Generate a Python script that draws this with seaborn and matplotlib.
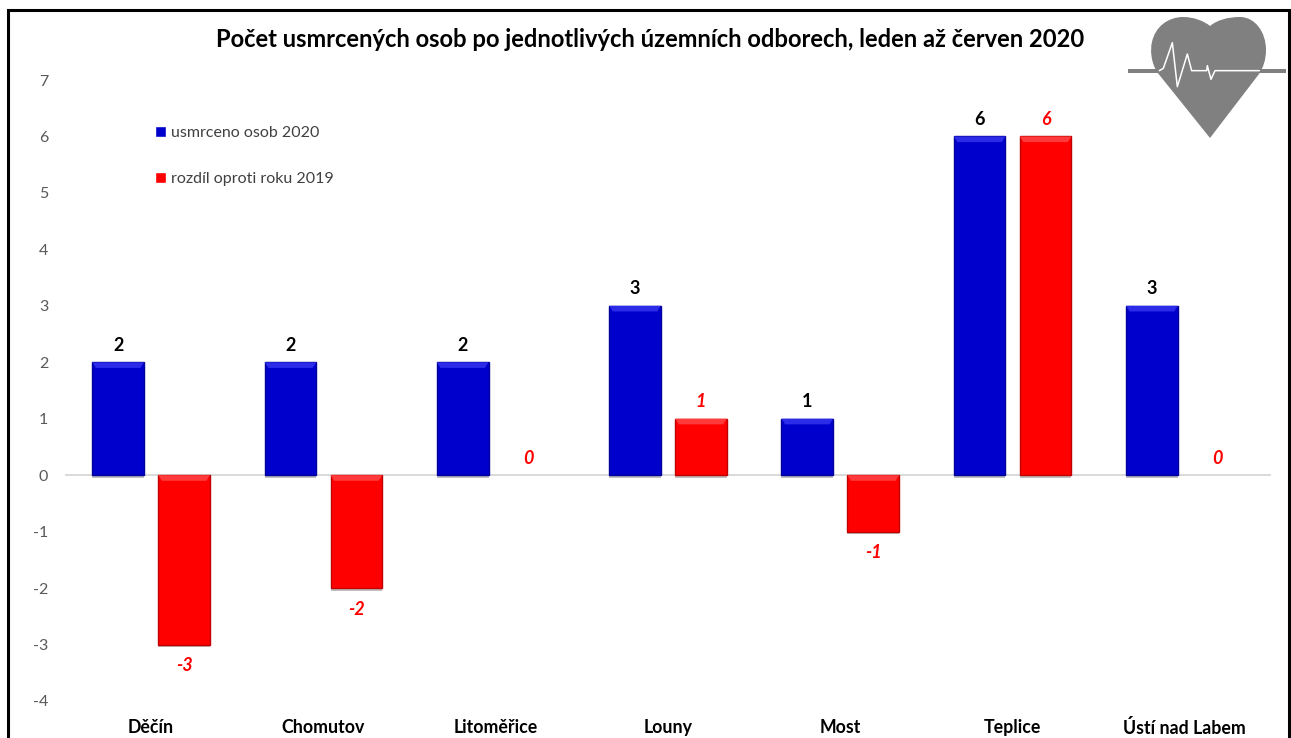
import pandas as pd
import seaborn as sns
import matplotlib.pyplot as plt
import matplotlib.patheffects as pe
from matplotlib.patches import Polygon, Rectangle, PathPatch
from matplotlib.path import Path

categories = ['Děčín', 'Chomutov', 'Litoměřice', 'Louny', 'Most', 'Teplice', 'Ústí nad Labem']
usmrceno_2020 = [2, 2, 2, 3, 1, 6, 3]
rozdil_2019 = [-3, -2, 0, 1, -1, 6, 0]
series_names = ['usmrceno osob 2020', 'rozdíl oproti roku 2019']
title = 'Počet usmrcených osob po jednotlivých územních odborech, leden až červen 2020'

W, H = 1291, 738

# dlouha tabulka pro seaborn
df = pd.DataFrame({
    'odbor': categories * 2,
    'pocet': usmrceno_2020 + rozdil_2019,
    'serie': [series_names[0]] * 7 + [series_names[1]] * 7,
})

sns.set_theme(style='white')
plt.rcParams['font.family'] = ['Lato', 'DejaVu Sans']
plt.rcParams['axes.unicode_minus'] = False

fig = plt.figure(figsize=(W / 100, H / 100), dpi=100, facecolor='white')
ax = fig.add_axes([65 / W, 1 - 701 / H, (1271 - 65) / W, (701 - 80) / H])

colors = {series_names[0]: '#0000CC', series_names[1]: '#FF0000'}
edges = ['#00009A', '#C00000']
bevels = ['#2B2BE8', '#FF3A3A']
sns.barplot(data=df, x='odbor', y='pocet', hue='serie', palette=colors, width=0.766, gap=0.217,
            saturation=1, ax=ax, legend=True)

ax.set_xlim(-0.5, 6.5)
ax.set_ylim(-4, 7)
ax.set_yticks(range(-4, 8))
ax.set_xlabel('')
ax.set_ylabel('')
sns.despine(ax=ax, left=True, bottom=True)
ax.axhline(0, color='#D9D9D9', lw=1.4, zorder=1)
ax.tick_params(axis='y', length=0, pad=12, labelsize=11.5, labelcolor='#595959')
ax.tick_params(axis='x', length=0, pad=13, labelsize=12.8)
for lab in ax.get_xticklabels():
    lab.set_fontweight('bold')
    lab.set_color('black')

# stin, tmavsi okraj a svetlejsi horni hrana sloupcu, popisky hodnot
shadow = [pe.SimplePatchShadow(offset=(0, -2), shadow_rgbFace='#808080', alpha=0.5), pe.Normal()]
for i, cont in enumerate(ax.containers[:2]):
    for bar in cont:
        if bar.get_height() == 0:
            bar.set_visible(False)
            continue
        bar.set_edgecolor(edges[i])
        bar.set_linewidth(1)
        bar.set_path_effects(shadow)
        bar.set_zorder(3)
        x0 = bar.get_x()
        w = bar.get_width()
        top = max(bar.get_y(), bar.get_y() + bar.get_height())
        ax.add_patch(Polygon([(x0, top), (x0 + w, top), (x0 + w * 0.93, top - 0.1), (x0 + w * 0.07, top - 0.1)],
                             closed=True, facecolor=bevels[i], edgecolor='none', zorder=4))
    if i == 0:
        ax.bar_label(cont, fmt='%d', padding=6, fontsize=13, fontweight='bold', color='black')
    else:
        texts = ax.bar_label(cont, fmt='%d', padding=6, fontsize=13, fontweight='bold', fontstyle='italic', color='#FF0000')
        # zaporne popisky jsou v originale o neco niz
        for t, v in zip(texts, rozdil_2019):
            if v < 0:
                t.xyann = (0, -9)

leg = ax.legend(loc='upper left', bbox_to_anchor=(141 / W, 1 - 112 / H), bbox_transform=fig.transFigure,
                frameon=False, fontsize=11.5, labelspacing=2.0, handlelength=0.65, handleheight=0.65,
                handletextpad=0.3, borderpad=0.4)
for t in leg.get_texts():
    t.set_color('#404040')

fig.text(650 / W, 1 - 39.5 / H, title, ha='center', va='center', fontsize=17.1, fontweight='bold', color='black')

# ramecek a srdce v pixelovych souradnicich
over = fig.add_axes([0, 0, 1, 1], facecolor='none')
over.set_xlim(0, W)
over.set_ylim(H, 0)
over.axis('off')
over.plot([7.5, 7.5, 1288.5, 1288.5], [738, 10, 10, 738], color='black', lw=2.2, solid_joinstyle='miter')

heart_verts = [(1210, 138), (1157, 72),
               (1151, 62), (1150, 50), (1152, 42),
               (1155, 27), (1168, 17), (1183, 17),
               (1194, 17), (1204, 21), (1210, 26),
               (1217, 20), (1228, 17), (1240, 17),
               (1255, 17), (1266, 32), (1266, 50),
               (1266, 60), (1263, 68), (1259, 74),
               (1210, 138)]
heart_codes = [Path.MOVETO, Path.LINETO] + [Path.CURVE4] * 18 + [Path.LINETO]
over.add_patch(PathPatch(Path(heart_verts, heart_codes), facecolor='#808080', edgecolor='none'))
over.add_patch(Rectangle((1128, 69), 158, 3.5, facecolor='#808080', edgecolor='none'))
ecg_x = [178, 190, 217, 232, 262, 275, 320, 322, 333, 345, 478]
ecg_y = [212, 205, 128, 260, 162, 212, 212, 197, 238, 212, 212]
over.plot([1100 + x / 3 for x in ecg_x], [y / 3 for y in ecg_y], color='white', lw=1.1)

fig.savefig('out.png', dpi=100)
